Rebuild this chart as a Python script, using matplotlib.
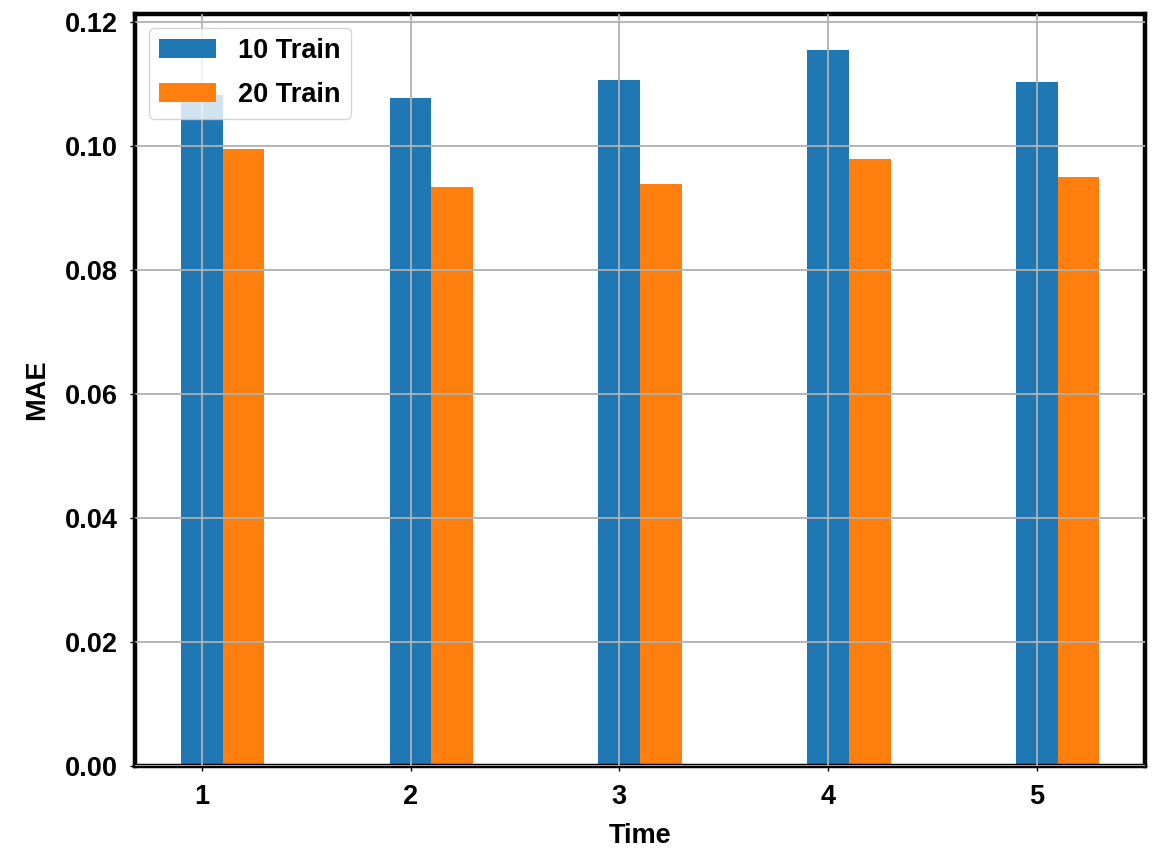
import matplotlib
matplotlib.use("Agg")
import matplotlib.pyplot as plt
import numpy as np

# MAE per time step for the two training-set sizes
times = [1, 2, 3, 4, 5]
mae_10_train = [0.1082, 0.1077, 0.1106, 0.1155, 0.1103]
mae_20_train = [0.0995, 0.0933, 0.0939, 0.0979, 0.0950]
series_labels = ["10 Train", "20 Train"]

plt.rcParams["font.family"] = ["Liberation Sans", "DejaVu Sans"]
plt.rcParams["font.weight"] = "bold"
plt.rcParams["font.size"] = 19.5

fig, ax = plt.subplots(figsize=(11.58, 8.48), dpi=100)
fig.subplots_adjust(left=0.1166, right=0.989, bottom=0.0967, top=0.9835)

x = np.array(times, dtype=float)
width = 0.2
ax.bar(x, mae_10_train, width, color="#1f77b4", label=series_labels[0])
ax.bar(x + width, mae_20_train, width, color="#ff7f0e", label=series_labels[1])

yticks = np.arange(0, 0.121, 0.02)
ax.set_xticks(times)
ax.set_xticklabels([str(t) for t in times], fontweight="bold")
ax.set_yticks(yticks)
ax.set_yticklabels([f"{v:.2f}" for v in yticks], fontweight="bold")
ax.set_xlabel("Time", fontweight="bold", labelpad=9)
ax.set_ylabel("MAE", fontweight="bold", labelpad=10.5)

ax.set_axisbelow(False)
ax.grid(True, color="#b0b0b0", linewidth=1.3)

for spine in ax.spines.values():
    spine.set_linewidth(3.2)
    spine.set_color("black")
ax.tick_params(axis="both", width=1.0, length=3.5)
ax.tick_params(axis="x", pad=9.5)
ax.tick_params(axis="y", pad=9)

ax.legend(loc="upper left", labelspacing=0.65, handlelength=2.1,
          prop={"weight": "bold", "size": 19.5})

fig.savefig("out.png", dpi=100)
